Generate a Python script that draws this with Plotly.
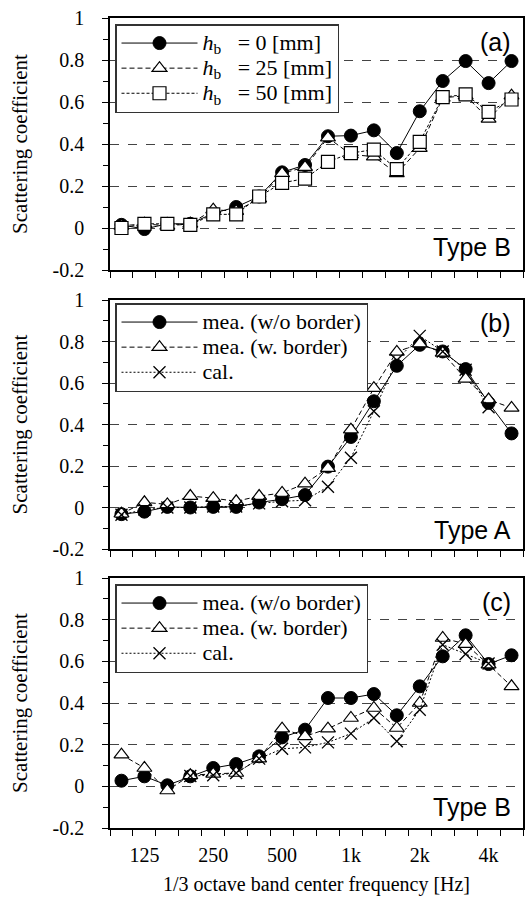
import plotly.graph_objects as go
from plotly.subplots import make_subplots

# 1/3 octave band centre frequencies [Hz]
freq_bands = [100, 125, 160, 200, 250, 315, 400, 500, 630, 800, 1000, 1250,
              1600, 2000, 2500, 3150, 4000, 5000]
tick_freqs = [125, 250, 500, 1000, 2000, 4000]
tick_labels = ["125", "250", "500", "1k", "2k", "4k"]

y_tickvals = [-0.2, 0, 0.2, 0.4, 0.6, 0.8, 1]
y_ticktext = ["-0.2", "0", "0.2", "0.4", "0.6", "0.8", "1"]

# (a) Type B, varying border height
a_hb0 = [0.015, -0.005, 0.02, 0.02, 0.07, 0.10, 0.15, 0.265, 0.30, 0.437, 0.44,
         0.465, 0.357, 0.556, 0.70, 0.795, 0.69, 0.795]
a_hb25 = [0.01, 0.02, 0.01, 0.02, 0.087, 0.08, 0.14, 0.26, 0.29, 0.43, 0.35,
          0.34, 0.26, 0.38, 0.62, 0.63, 0.52, 0.63]
a_hb50 = [0.0, 0.02, 0.02, 0.015, 0.065, 0.065, 0.15, 0.215, 0.235, 0.315,
          0.357, 0.373, 0.28, 0.41, 0.623, 0.636, 0.553, 0.612]

# (b) Type A
b_wo = [-0.032, -0.02, 0.003, 0.0, 0.003, 0.003, 0.024, 0.04, 0.06, 0.197,
        0.34, 0.512, 0.683, 0.784, 0.752, 0.667, 0.504, 0.357]
b_w = [-0.03, 0.025, 0.015, 0.055, 0.045, 0.03, 0.055, 0.07, 0.115, 0.19,
       0.375, 0.575, 0.75, 0.79, 0.745, 0.62, 0.52, 0.48]
b_cal = [-0.035, -0.01, 0.0, 0.0, 0.005, 0.005, 0.02, 0.03, 0.035, 0.10, 0.24,
         0.464, 0.71, 0.827, 0.752, 0.664, 0.483, None]

# (c) Type B
c_wo = [0.027, 0.048, 0.005, 0.048, 0.088, 0.107, 0.144, 0.235, 0.272, 0.424,
        0.424, 0.443, 0.341, 0.48, 0.624, 0.725, 0.587, 0.629]
c_w = [0.152, 0.088, -0.02, 0.053, 0.06, 0.064, 0.133, 0.277, 0.24, 0.277,
       0.328, 0.376, 0.28, 0.40, 0.712, 0.683, 0.584, 0.48]
c_cal = [None, None, None, 0.05, 0.053, 0.064, 0.133, 0.18, 0.187, 0.211,
         0.253, 0.328, 0.216, 0.368, 0.68, 0.635, 0.59, None]

x_idx = list(range(len(freq_bands)))
tickvals = [freq_bands.index(f) for f in tick_freqs]

SERIF = "Liberation Serif, Times New Roman, DejaVu Serif, serif"
SANS = "Liberation Sans, Arial, sans-serif"

fig = make_subplots(rows=3, cols=1)

def big(s):
    return "<span style='font-size:22px'>" + s + "</span>"

def mk(y, name, style, legend, row):
    if style == "circle":
        marker = dict(symbol="circle", size=13, color="black",
                      line=dict(color="black", width=1))
        line = dict(color="black", width=1)
    elif style == "triangle":
        marker = dict(symbol="triangle-up", size=13, color="white",
                      line=dict(color="black", width=1.2))
        line = dict(color="black", width=1, dash="5px,3px")
    elif style == "square":
        marker = dict(symbol="square", size=13, color="white",
                      line=dict(color="black", width=1.2))
        line = dict(color="black", width=1, dash="3px,2px")
    else:
        marker = dict(symbol="x-thin", size=12, color="black",
                      line=dict(color="black", width=1.3))
        line = dict(color="black", width=1, dash="2px,2px")
    fig.add_trace(go.Scatter(x=x_idx, y=y, name=big(name), mode="lines+markers",
                             marker=marker, line=line, legend=legend,
                             connectgaps=False),
                  row=row, col=1)

hb = "<i>h</i><sub>b</sub>"
mk(a_hb0, hb + "   = 0 [mm]", "circle", "legend", 1)
mk(a_hb25, hb + "   = 25 [mm]", "triangle", "legend", 1)
mk(a_hb50, hb + "   = 50 [mm]", "square", "legend", 1)

mk(b_wo, "mea. (w/o border)", "circle", "legend2", 2)
mk(b_w, "mea. (w. border)", "triangle", "legend2", 2)
mk(b_cal, "cal.", "cross", "legend2", 2)

mk(c_wo, "mea. (w/o border)", "circle", "legend3", 3)
mk(c_w, "mea. (w. border)", "triangle", "legend3", 3)
mk(c_cal, "cal.", "cross", "legend3", 3)

H = 902
T, B = 18, 74
ph = H - T - B
def dom(top_px, bot_px):
    return [(H - B - bot_px) / ph, (H - B - top_px) / ph]

domains = [dom(18, 270), dom(300, 549), dom(578, 828)]

for i in range(3):
    r = i + 1
    fig.update_yaxes(row=r, col=1, domain=domains[i], range=[-0.2, 1],
                     tickmode="array", tickvals=y_tickvals, ticktext=y_ticktext,
                     ticks="outside", ticklen=6, tickcolor="black", tickwidth=1,
                     minor=dict(tickmode="linear", tick0=0, dtick=0.1,
                                ticks="outside", ticklen=5, tickcolor="black",
                                showgrid=False),
                     showgrid=True, gridcolor="#444", griddash="dash",
                     gridwidth=1, zeroline=False,
                     showline=True, linecolor="black", linewidth=1.5,
                     mirror=True, automargin=False,
                     tickfont=dict(family=SERIF, size=20, color="black"),
                     ticklabelstandoff=14,
                     title=dict(text="Scattering coefficient",
                                font=dict(family=SERIF, size=21, color="black"),
                                standoff=19))
    xkw = dict(row=r, col=1, range=[-0.5, len(freq_bands) - 0.5],
               ticks="outside", ticklen=0, tickcolor="black",
               minor=dict(tickmode="linear", tick0=-0.5, dtick=1,
                          ticks="outside", ticklen=6, tickcolor="black",
                          showgrid=False),
               showgrid=False, zeroline=False,
               showline=True, linecolor="black", linewidth=1.5,
               mirror=True, automargin=False)
    if r == 3:
        xkw.update(tickmode="array", tickvals=tickvals, ticktext=tick_labels,
                   showticklabels=True,
                   tickfont=dict(family=SERIF, size=20, color="black"),
                   ticklabelstandoff=8)
    else:
        xkw.update(tickmode="array", tickvals=tickvals, showticklabels=False)
    fig.update_xaxes(**xkw)

fig.update_xaxes(row=3, col=1,
                 title=dict(text="1/3 octave band center frequency [Hz]",
                            font=dict(family=SERIF, size=20, color="black"),
                            standoff=12))

leg_common = dict(xanchor="left", yanchor="top", bgcolor="white",
                  bordercolor="#333", borderwidth=1.5,
                  font=dict(family=SERIF, size=17, color="black"),
                  itemwidth=76, tracegroupgap=0, traceorder="normal")
lx = (115 - 110) / (525 - 110 - 2)
fig.update_layout(
    legend=dict(x=lx, y=(H - B - 24) / ph, **leg_common),
    legend2=dict(x=lx, y=(H - B - 303) / ph, **leg_common),
    legend3=dict(x=lx, y=(H - B - 584) / ph, **leg_common),
)

panel_labels = [("(a)", "Type B"), ("(b)", "Type A"), ("(c)", "Type B")]
label_y = [(0.905, 0.091), (0.908, 0.076), (0.904, 0.084)]
for i, (lab, typ) in enumerate(panel_labels):
    xref = "x domain" if i == 0 else f"x{i+1} domain"
    yref = "y domain" if i == 0 else f"y{i+1} domain"
    fig.add_annotation(text=lab, xref=xref, yref=yref, x=0.976, y=label_y[i][0],
                       xanchor="right", yanchor="middle", showarrow=False,
                       font=dict(family=SANS, size=25, color="black"))
    fig.add_annotation(text=typ, xref=xref, yref=yref, x=0.976, y=label_y[i][1],
                       xanchor="right", yanchor="middle", showarrow=False,
                       font=dict(family=SANS, size=25, color="black"))

fig.update_layout(width=525, height=902, margin=dict(l=110, r=2, t=T, b=B),
                  plot_bgcolor="white", paper_bgcolor="white",
                  showlegend=True)

fig.write_html("out.html")
